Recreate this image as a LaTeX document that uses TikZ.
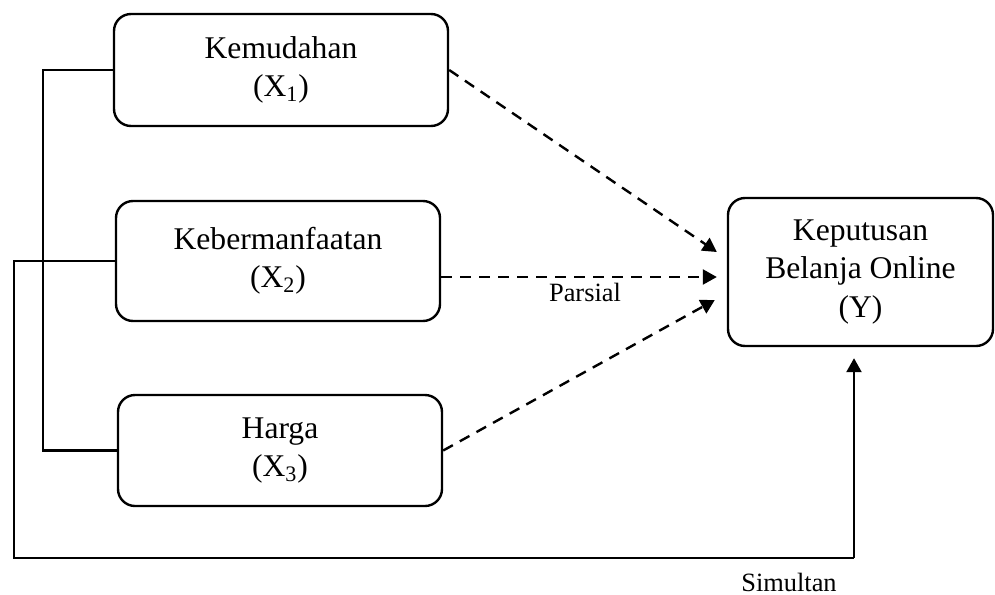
\documentclass[tikz,border=0pt]{standalone}
\usepackage{fontspec}
\setmainfont{Liberation Serif}
\usetikzlibrary{arrows.meta}
\begin{document}
\begin{tikzpicture}[x=0.5pt, y=-0.5pt,
        var/.style={draw, line width=1.2pt, rounded corners=8.5pt, align=center, inner sep=0pt, font=\fontsize{15.8}{19.2}\selectfont},
        link/.style={line width=1.2pt},
        partial/.style={line width=1.2pt, dash pattern=on 5.5pt off 4pt, -{Triangle[length=7pt,width=7.5pt]}},
        note/.style={font=\fontsize{13.2}{15}\selectfont}]
        \useasboundingbox (0,0) rectangle (995,594);
        \node[var, minimum width=167pt, minimum height=56pt] (x1) at (281,70) {Kemudahan\\(X\textsubscript{1})};
        \node[var, minimum width=162pt, minimum height=60pt] (x2) at (278,261) {Kebermanfaatan\\(X\textsubscript{2})};
        \node[var, minimum width=162pt, minimum height=55.5pt] (x3) at (280,450.5) {Harga\\(X\textsubscript{3})};
        \node[var, minimum width=132.5pt, minimum height=74pt] (y) at (860.5,272) {Keputusan\\Belanja Online\\(Y)};
        \coordinate (sl) at (14,558);
        \coordinate (sr) at (854,558);
        \draw[link] (x1.west) -- ++(-70,0) |- (x3.west);
        \draw[link] (x2.west) -| (sl) -- (sr);
        \draw[link, -{Triangle[length=7pt,width=7.5pt]}, shorten >=5.5pt] (sr) -- (sr |- y.south);
        \draw[partial] (x1.east) -- ([shift={(-10,-20)}]y.west);
        \draw[partial] ([shift={(0,16)}]x2.east) -- ([shift={(-10,5)}]y.west);
        \draw[partial] (x3.east) -- ([shift={(-12,28)}]y.west);
        \node[note] (parsial) at (585,292) {Parsial};
        \node[note] (simultan) at (789,582) {Simultan};
    \end{tikzpicture}
\end{document}
